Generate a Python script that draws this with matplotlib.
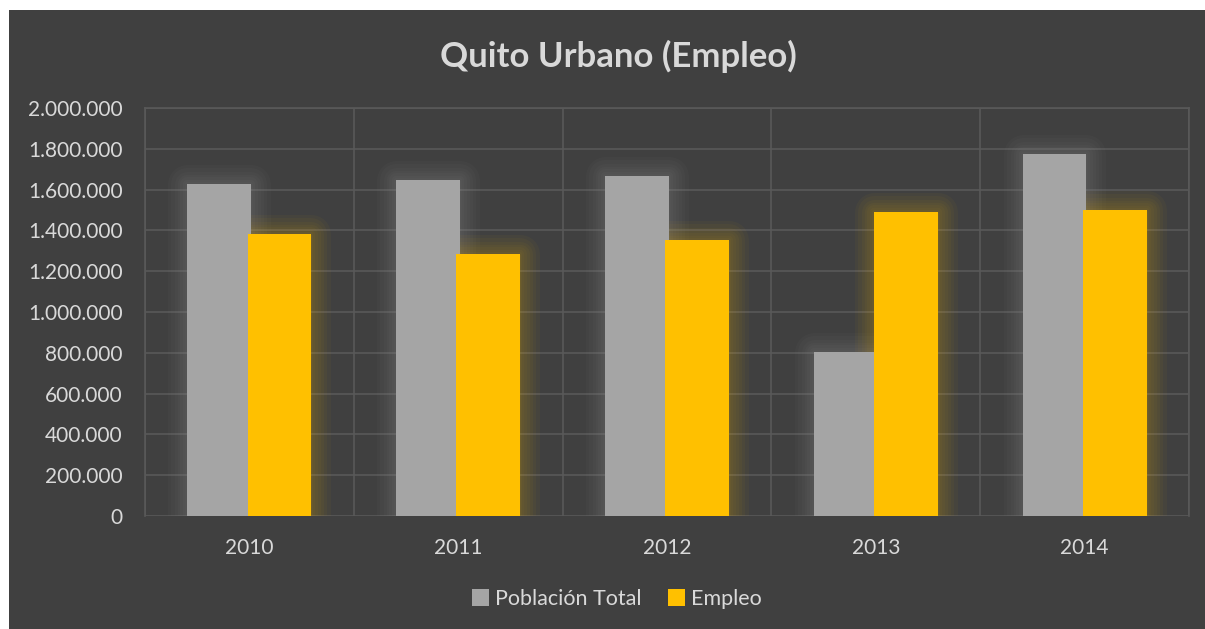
import numpy as np
import matplotlib.pyplot as plt
from matplotlib.patches import Rectangle, Patch

# data
years = ['2010', '2011', '2012', '2013', '2014']
poblacion_total = [1627000, 1647000, 1667000, 804000, 1775000]
empleo = [1382000, 1284000, 1353000, 1490000, 1500000]
yticks = list(range(0, 2000001, 200000))

bg = '#404040'
txt = '#d9d9d9'
grid_c = '#595959'
gray = '#a5a5a5'
yellow = '#ffc000'

plt.rcParams['font.family'] = ['Lato', 'DejaVu Sans']

fig = plt.figure(figsize=(12.05, 6.29), dpi=100)
fig.patch.set_facecolor('white')
# dark chart area
fig.patches.append(Rectangle((9 / 1205, 0), 1, 1 - 10 / 629, transform=fig.transFigure,
                             facecolor=bg, edgecolor='none', zorder=-10))

ax = fig.add_axes([145 / 1205, 1 - 516 / 629, (1189 - 145) / 1205, (516 - 108) / 629])
ax.set_facecolor(bg)

x = np.arange(len(years))
w = 0.306
off = 0.144


def glow_bars(xs, vals, color):
    # soft glow: stack of wide translucent strokes
    for lw in [28, 23, 18, 14, 10, 6, 3]:
        ax.bar(xs, vals, w, color=color, edgecolor=color, linewidth=lw,
               alpha=0.035, joinstyle='round', zorder=2)


glow_bars(x - off, poblacion_total, gray)
ax.bar(x - off, poblacion_total, w, color=gray, zorder=3)
glow_bars(x + off, empleo, yellow)
ax.bar(x + off, empleo, w, color=yellow, zorder=4)

ax.set_xlim(-0.5, len(years) - 0.5)
ax.set_ylim(0, 2000000)
ax.set_yticks(yticks)
ax.set_yticklabels([f'{v:,}'.replace(',', '.') for v in yticks])
ax.set_xticks(x)
ax.set_xticklabels(years)
ax.set_xticks(np.arange(-0.5, len(years)), minor=True)

ax.grid(axis='y', which='major', color=grid_c, linewidth=1.2, zorder=1)
ax.grid(axis='x', which='minor', color=grid_c, linewidth=1.2, zorder=1)
ax.set_axisbelow(True)
for s in ax.spines.values():
    s.set_color(grid_c)
    s.set_linewidth(1.2)
ax.spines['bottom'].set_visible(False)

ax.tick_params(axis='both', which='both', length=0, colors=txt, labelsize=15)
ax.tick_params(axis='x', pad=16)
ax.tick_params(axis='y', pad=16)

fig.text(618 / 1205, 1 - 56 / 629, 'Quito Urbano (Empleo)', ha='center', va='center',
         fontsize=25, fontweight='bold', color=txt)

handles = [Patch(facecolor=gray, label='Población Total'),
           Patch(facecolor=yellow, label='Empleo')]
fig.legend(handles=handles, loc='center', bbox_to_anchor=(617 / 1205, 1 - 599 / 629),
           ncol=2, frameon=False, fontsize=15.5, labelcolor=txt,
           handlelength=0.8, handleheight=0.8, handletextpad=0.3, columnspacing=1.2)

fig.savefig('out.png', dpi=100, facecolor=fig.get_facecolor())
